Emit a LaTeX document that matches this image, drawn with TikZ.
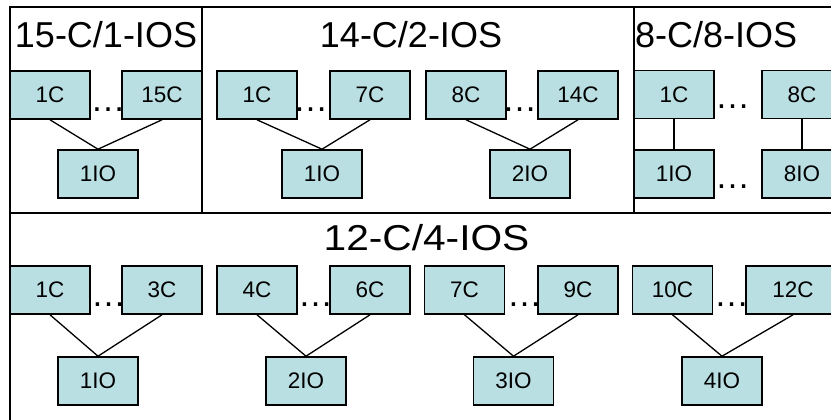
\documentclass[tikz,border=0pt]{standalone}
\usepackage{fontspec}
\setmainfont{Liberation Sans}
\definecolor{boxfill}{RGB}{185,223,226}
\begin{document}
\begin{tikzpicture}[x=1pt,y=-1pt,
  frame/.style={draw=black,line width=1.8pt},
  unit/.style={draw=black,line width=1.6pt,fill=boxfill,minimum width=80pt,minimum height=48pt,
    inner sep=0pt,font=\fontsize{22.5}{26}\selectfont},
  title/.style={inner sep=0pt,anchor=base,font=\fontsize{36}{40}\selectfont},
  gap/.style={inner sep=0pt,anchor=base,font=\fontsize{35}{40}\selectfont},
  link/.style={draw=black,line width=1.3pt}]
\useasboundingbox (0,0) rectangle (831,420);
\fill[white] (0,0) rectangle (831,420);

% group frames
\draw[frame] (10,7) rectangle (202,213);
\draw[frame] (202,7) rectangle (634,213);
\draw[frame] (634,7) rectangle (850,213);
\draw[frame] (10,213) rectangle (850,440);

% group titles
\node[title] (t1) at (106,48) {15-C/1-IOS};
\node[title] (t2) at (411,48) {14-C/2-IOS};
\node[title,anchor=base west] (t3) at (635,48) {8-C/8-IOS};
\node[title,xscale=1.13] (t4) at (426.5,250) {12-C/4-IOS};

% 15 cores sharing one I/O server
\node[unit] (a1) at (50,95) {1C};
\node[unit] (a15) at (162,95) {15C};
\node[unit] (aio) at (98,174) {1IO};
\node[gap] (ad) at (108,111.5) {…};
\draw[link] (a1.south) -- (aio.north);
\draw[link] (a15.south) -- (aio.north);

% 14 cores, two I/O servers
\node[unit] (b1) at (257,95) {1C};
\node[unit] (b7) at (370,95) {7C};
\node[unit] (b8) at (466,95) {8C};
\node[unit] (b14) at (578,95) {14C};
\node[unit] (bio1) at (322,174) {1IO};
\node[unit] (bio2) at (530,174) {2IO};
\node[gap] (bd1) at (310.5,111.5) {…};
\node[gap] (bd2) at (519.5,111.5) {…};
\draw[link] (b1.south) -- (bio1.north);
\draw[link] (b7.south) -- (bio1.north);
\draw[link] (b8.south) -- (bio2.north);
\draw[link] (b14.south) -- (bio2.north);

% 8 cores, one I/O server each
\node[unit] (c1) at (674,94.5) {1C};
\node[unit] (c8) at (802,94.5) {8C};
\node[unit] (cio1) at (674,174) {1IO};
\node[unit] (cio8) at (802,174) {8IO};
\node[gap] (cd1) at (732.5,109) {…};
\node[gap] (cd2) at (732.5,188) {…};
\draw[link] (c1.south) -- (cio1.north);
\draw[link] (c8.south) -- (cio8.north);

% 12 cores, four I/O servers
\node[unit] (d1) at (50,290) {1C};
\node[unit] (d3) at (162,290) {3C};
\node[unit] (d4) at (257,290) {4C};
\node[unit] (d6) at (370,290) {6C};
\node[unit] (d7) at (464.5,290) {7C};
\node[unit] (d9) at (578,290) {9C};
\node[unit] (d10) at (672.5,290) {10C};
\node[unit,minimum width=94pt] (d12) at (793,290) {12C};
\node[unit] (dio1) at (98,381) {1IO};
\node[unit] (dio2) at (306,381) {2IO};
\node[unit] (dio3) at (513.5,381) {3IO};
\node[unit] (dio4) at (722,381) {4IO};
\node[gap] (dd1) at (108.5,306) {…};
\node[gap] (dd2) at (315.5,306) {…};
\node[gap] (dd3) at (524.5,306) {…};
\node[gap] (dd4) at (731.5,306) {…};
\draw[link] (d1.south) -- (dio1.north);
\draw[link] (d3.south) -- (dio1.north);
\draw[link] (d4.south) -- (dio2.north);
\draw[link] (d6.south) -- (dio2.north);
\draw[link] (d7.south) -- (dio3.north);
\draw[link] (d9.south) -- (dio3.north);
\draw[link] (d10.south) -- (dio4.north);
\draw[link] (d12.south) -- (dio4.north);
\end{tikzpicture}
\end{document}
